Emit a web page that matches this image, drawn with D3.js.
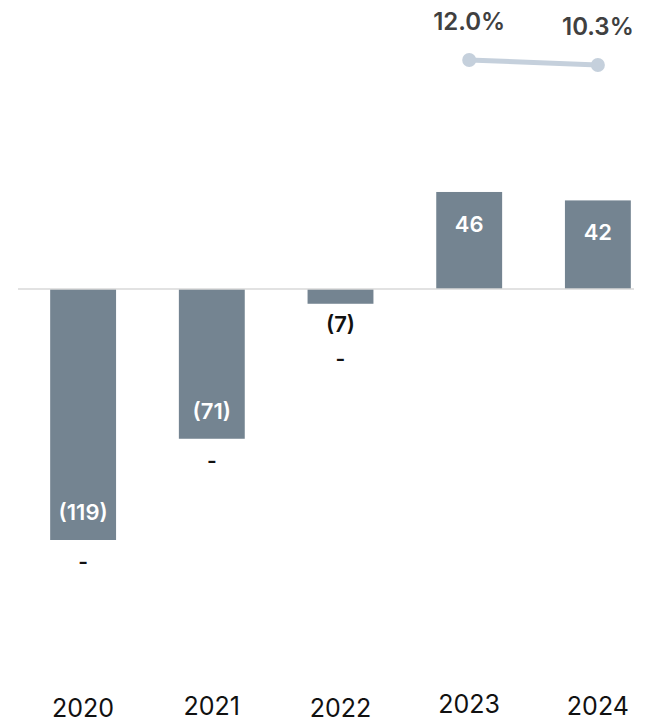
<!DOCTYPE html>
<html><head><meta charset="utf-8">
<script src="https://cdn.jsdelivr.net/npm/d3@7"></script>
<style>body{margin:0;background:#fff}svg{display:block}</style>
</head><body>
<script>
const categories = ["2020","2021","2022","2023","2024"];
const values = [-119,-71,-7,46,42];
const valueLabels = ["(119)","(71)","(7)","46","42"];
const margins = [null,null,null,12.0,10.3];
const marginLabels = ["-","-","-","12.0%","10.3%"];

const W=664,H=724;
const svg=d3.select("body").append("svg").attr("width",W).attr("height",H);
const font="Inter, 'DejaVu Sans', sans-serif";

const x=d3.scaleBand().domain(categories).range([18,663]).paddingInner(0.488).paddingOuter(0.25);
const y=d3.scaleLinear().domain([0,-119]).range([289,540]);
const ym=d3.scaleLinear().domain([0,12]).range([95.3,60]);

// bars
svg.selectAll("rect.bar").data(values).join("rect")
  .attr("x",(d,i)=>x(categories[i])).attr("width",x.bandwidth())
  .attr("y",d=>Math.min(y(d),y(0))).attr("height",d=>Math.abs(y(d)-y(0)))
  .attr("fill","#748491");

// zero line
svg.append("line").attr("x1",18).attr("x2",634).attr("y1",y(0)).attr("y2",y(0))
  .attr("stroke","#d9d9d9").attr("stroke-width",1.5);

// value labels
svg.selectAll("text.val").data(values).join("text")
  .attr("x",(d,i)=>x(categories[i])+x.bandwidth()/2)
  .attr("y",d=>{
    const h=Math.abs(y(d)-y(0));
    if(h<40) return y(d)+28;
    return d<0 ? y(d)-20 : y(d)+40;
  })
  .attr("text-anchor","middle").attr("font-family",font).attr("font-weight",600)
  .attr("font-size",22)
  .attr("fill",d=>Math.abs(y(d)-y(0))<40?"#111":"#fff")
  .text((d,i)=>valueLabels[i]);

// dashes for missing margins
svg.selectAll("text.dash").data(values.map((v,i)=>({v,i})).filter(d=>margins[d.i]==null)).join("text")
  .attr("x",d=>x(categories[d.i])+x.bandwidth()/2)
  .attr("y",d=>{const h=Math.abs(y(d.v)-y(0)); return h<40? y(d.v)+62 : y(d.v)+29;})
  .attr("text-anchor","middle").attr("font-family",font).attr("font-weight",600)
  .attr("font-size",21).attr("fill","#111").text(d=>marginLabels[d.i]);

// margin line
const pts=margins.map((m,i)=>({m,i})).filter(d=>d.m!=null);
svg.append("path").datum(pts)
  .attr("d",d3.line().x(d=>x(categories[d.i])+x.bandwidth()/2).y(d=>ym(d.m)))
  .attr("fill","none").attr("stroke","#c5d0dc").attr("stroke-width",5);
svg.selectAll("circle.pt").data(pts).join("circle")
  .attr("cx",d=>x(categories[d.i])+x.bandwidth()/2).attr("cy",d=>ym(d.m)).attr("r",7)
  .attr("fill","#c5d0dc");
svg.selectAll("text.pct").data(pts).join("text")
  .attr("x",d=>x(categories[d.i])+x.bandwidth()/2).attr("y",d=>ym(d.m)-30)
  .attr("text-anchor","middle").attr("font-family",font).attr("font-weight",600)
  .attr("font-size",24).attr("fill","#404040").text(d=>marginLabels[d.i]);

// year labels
const yearY=[717,715,717,713,715];
svg.selectAll("text.year").data(categories).join("text")
  .attr("x",d=>x(d)+x.bandwidth()/2).attr("y",(d,i)=>yearY[i])
  .attr("text-anchor","middle").attr("font-family",font).attr("font-size",25)
  .attr("fill","#111").text(d=>d);
</script>
</body></html>
